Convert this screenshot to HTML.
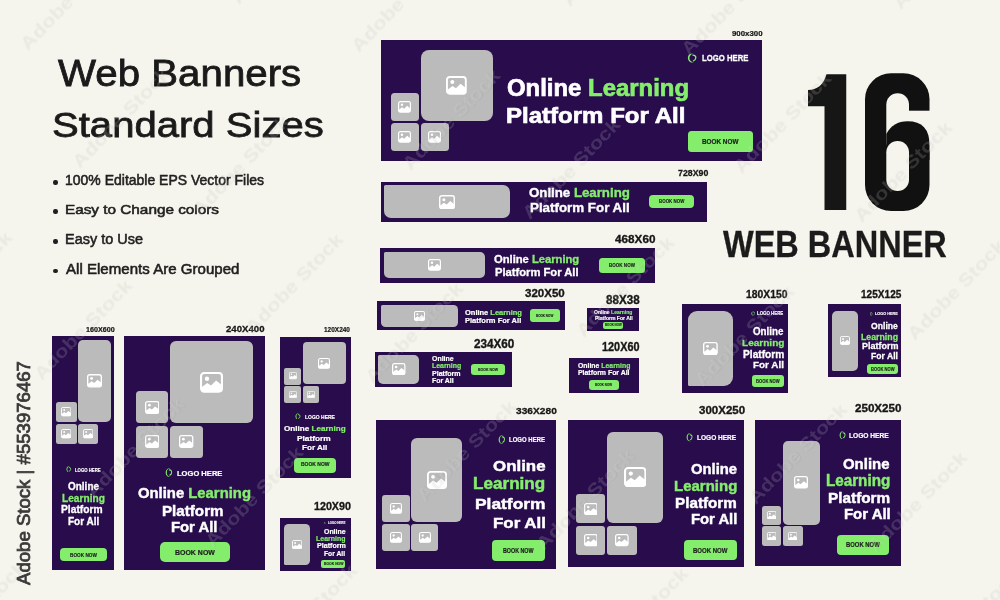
<!DOCTYPE html>
<html><head><meta charset="utf-8"><style>
html,body{margin:0;padding:0;width:1000px;height:600px;overflow:hidden;background:#f6f5ed;}
body{position:relative;font-family:"Liberation Sans",sans-serif;}
.t{position:absolute;white-space:nowrap;transform-origin:0 0;}
.r{position:absolute;display:block;}
</style></head><body>
<div class="t" style="left:58.44px;top:55.36px;font-size:100px;line-height:100px;font-weight:400;color:#1a1a1a;transform:scale(0.40267,0.36188);-webkit-text-stroke-width:2.21px;">Web Banners</div>
<div class="t" style="left:51.66px;top:107.01px;font-size:100px;line-height:100px;font-weight:400;color:#1a1a1a;transform:scale(0.40075,0.35773);-webkit-text-stroke-width:2.24px;">Standard Sizes</div>
<div class="t" style="left:64.94px;top:173.15px;font-size:100px;line-height:100px;font-weight:400;color:#1f1f1f;transform:scale(0.13989,0.14227);-webkit-text-stroke-width:3.87px;">100% Editable EPS Vector Files</div>
<div class="r" style="left:53.00px;top:180.40px;width:4.50px;height:4.50px;background:#1f1f1f;border-radius:2.2px;"></div>
<div class="t" style="left:64.74px;top:202.57px;font-size:100px;line-height:100px;font-weight:400;color:#1f1f1f;transform:scale(0.15306,0.13260);-webkit-text-stroke-width:4.15px;">Easy to Change colors</div>
<div class="r" style="left:53.00px;top:209.00px;width:4.50px;height:4.50px;background:#1f1f1f;border-radius:2.2px;"></div>
<div class="t" style="left:64.81px;top:231.62px;font-size:100px;line-height:100px;font-weight:400;color:#1f1f1f;transform:scale(0.14489,0.14390);-webkit-text-stroke-width:3.82px;">Easy to Use</div>
<div class="r" style="left:53.00px;top:239.00px;width:4.50px;height:4.50px;background:#1f1f1f;border-radius:2.2px;"></div>
<div class="t" style="left:65.97px;top:261.57px;font-size:100px;line-height:100px;font-weight:400;color:#1f1f1f;transform:scale(0.15079,0.14088);-webkit-text-stroke-width:3.90px;">All Elements Are Grouped</div>
<div class="r" style="left:53.00px;top:268.70px;width:4.50px;height:4.50px;background:#1f1f1f;border-radius:2.2px;"></div>
<svg class="r" style="left:0;top:0;width:1000px;height:600px" viewBox="0 0 1000 600"><defs><mask id="m6"><rect x="850" y="60" width="100" height="160" fill="#fff"/><rect x="886.3" y="93.3" width="22.7" height="60" rx="11.35" fill="#000"/><rect x="909" y="110.7" width="30" height="40" fill="#000"/></mask></defs><path d="M808 90 C817 90 823.5 85 826.5 74.25 H846.25 V210 H824.5 V106.25 H808 Z" fill="#161616"/><g mask="url(#m6)"><rect x="865" y="73.3" width="64.5" height="137.7" rx="26" fill="#111"/></g><path d="M886.3 134 Q893 121.3 907.5 121.3 Q929.5 121.3 929.5 145 V160 H886.3 Z" fill="#111"/><rect x="886.3" y="141" width="22.7" height="50" rx="11.35" fill="#f6f5ed"/></svg>
<div class="t" style="left:723.34px;top:225.09px;font-size:100px;line-height:100px;font-weight:700;color:#1b1b1b;transform:scale(0.32493,0.37209);-webkit-text-stroke-width:0.81px;">WEB BANNER</div>
<div class="r" style="left:381.00px;top:39.50px;width:381.00px;height:121.50px;background:#280c4c;border-radius:0.0px;"></div>
<div class="r" style="left:420.75px;top:49.50px;width:71.75px;height:71.50px;background:#bbbbbb;border-radius:8px"></div>
<svg class="r" style="left:446.25px;top:75.91px;width:20.75px;height:18.68px" viewBox="0 0 24 21.6"><rect x="1.1" y="1.1" width="21.8" height="19.4" rx="3.2" fill="none" stroke="#fff" stroke-width="2.2"/><circle cx="7.3" cy="7" r="2.3" fill="#fff"/><path d="M1 16.5 L7.5 11.5 L11.5 14.2 L16.8 9 L23 13.8 V18 Q23 20.5 20.5 20.5 H3.5 Q1 20.5 1 18 Z" fill="#fff"/></svg>
<div class="r" style="left:390.75px;top:93.00px;width:28.00px;height:28.00px;background:#bbbbbb;border-radius:3.5px"></div>
<svg class="r" style="left:398.25px;top:101.15px;width:13.00px;height:11.70px" viewBox="0 0 24 21.6"><rect x="1.1" y="1.1" width="21.8" height="19.4" rx="3.2" fill="none" stroke="#fff" stroke-width="2.2"/><circle cx="7.3" cy="7" r="2.3" fill="#fff"/><path d="M1 16.5 L7.5 11.5 L11.5 14.2 L16.8 9 L23 13.8 V18 Q23 20.5 20.5 20.5 H3.5 Q1 20.5 1 18 Z" fill="#fff"/></svg>
<div class="r" style="left:390.75px;top:123.00px;width:28.00px;height:28.00px;background:#bbbbbb;border-radius:3.5px"></div>
<svg class="r" style="left:398.25px;top:131.15px;width:13.00px;height:11.70px" viewBox="0 0 24 21.6"><rect x="1.1" y="1.1" width="21.8" height="19.4" rx="3.2" fill="none" stroke="#fff" stroke-width="2.2"/><circle cx="7.3" cy="7" r="2.3" fill="#fff"/><path d="M1 16.5 L7.5 11.5 L11.5 14.2 L16.8 9 L23 13.8 V18 Q23 20.5 20.5 20.5 H3.5 Q1 20.5 1 18 Z" fill="#fff"/></svg>
<div class="r" style="left:420.75px;top:123.00px;width:28.00px;height:28.00px;background:#bbbbbb;border-radius:3.5px"></div>
<svg class="r" style="left:428.25px;top:131.15px;width:13.00px;height:11.70px" viewBox="0 0 24 21.6"><rect x="1.1" y="1.1" width="21.8" height="19.4" rx="3.2" fill="none" stroke="#fff" stroke-width="2.2"/><circle cx="7.3" cy="7" r="2.3" fill="#fff"/><path d="M1 16.5 L7.5 11.5 L11.5 14.2 L16.8 9 L23 13.8 V18 Q23 20.5 20.5 20.5 H3.5 Q1 20.5 1 18 Z" fill="#fff"/></svg>
<svg class="r" style="left:687.00px;top:53.00px;width:10.20px;height:10.00px" viewBox="0 0 20 20" preserveAspectRatio="none"><path d="M13.5 1.2 A9.2 9.2 0 1 0 13.5 18.8 A8 8 0 0 1 13.5 1.2 Z" fill="#84ee6c"/><path d="M11.5 4.2 Q17.8 4.6 17.2 10 Q16.6 14.6 12.6 15.6" fill="none" stroke="#84ee6c" stroke-width="2.6" stroke-linecap="round"/></svg>
<div class="t" style="left:701.89px;top:54.12px;font-size:100px;line-height:100px;font-weight:700;color:#ffffff;transform:scale(0.07734,0.08596);-webkit-text-stroke-width:3.00px;">LOGO HERE</div>
<div class="t" style="left:506.54px;top:74.53px;font-size:100px;line-height:100px;font-weight:700;color:#ffffff;transform:scale(0.23914,0.24171);-webkit-text-stroke-width:3.00px;">Online <span style="color:#84ee6c">Learning</span></div>
<div class="t" style="left:505.91px;top:103.79px;font-size:100px;line-height:100px;font-weight:700;color:#fff;transform:scale(0.24031,0.22099);-webkit-text-stroke-width:3.00px;">Platform For All</div>
<div class="r" style="left:687.50px;top:131.00px;width:65.00px;height:20.75px;background:#84ee6c;border-radius:3.5px;"></div>
<div class="t" style="left:701.58px;top:137.83px;font-size:100px;line-height:100px;font-weight:700;color:#1d1d1d;transform:scale(0.06367,0.07163);-webkit-text-stroke-width:3.00px;">BOOK NOW</div>
<div class="t" style="left:731.73px;top:29.33px;font-size:100px;line-height:100px;font-weight:700;color:#161616;transform:scale(0.07858,0.07880);-webkit-text-stroke-width:3.00px;">900x300</div>
<div class="r" style="left:380.50px;top:181.70px;width:326.30px;height:39.90px;background:#280c4c;border-radius:0.0px;"></div>
<div class="r" style="left:383.90px;top:184.90px;width:126.10px;height:33.60px;background:#bbbbbb;border-radius:1.5px 7px 7px 7px"></div>
<svg class="r" style="left:438.95px;top:194.50px;width:16.00px;height:14.40px" viewBox="0 0 24 21.6"><rect x="1.1" y="1.1" width="21.8" height="19.4" rx="3.2" fill="none" stroke="#fff" stroke-width="2.2"/><circle cx="7.3" cy="7" r="2.3" fill="#fff"/><path d="M1 16.5 L7.5 11.5 L11.5 14.2 L16.8 9 L23 13.8 V18 Q23 20.5 20.5 20.5 H3.5 Q1 20.5 1 18 Z" fill="#fff"/></svg>
<div class="t" style="left:529.27px;top:186.17px;font-size:100px;line-height:100px;font-weight:700;color:#ffffff;transform:scale(0.13243,0.13260);-webkit-text-stroke-width:3.00px;">Online <span style="color:#84ee6c">Learning</span></div>
<div class="t" style="left:529.92px;top:201.47px;font-size:100px;line-height:100px;font-weight:700;color:#fff;transform:scale(0.13346,0.12431);-webkit-text-stroke-width:3.00px;">Platform For All</div>
<div class="r" style="left:649.00px;top:194.80px;width:44.90px;height:13.60px;background:#84ee6c;border-radius:4.0px;"></div>
<div class="t" style="left:658.71px;top:199.22px;font-size:100px;line-height:100px;font-weight:700;color:#1d1d1d;transform:scale(0.04439,0.04585);-webkit-text-stroke-width:3.00px;">BOOK NOW</div>
<div class="t" style="left:677.63px;top:169.22px;font-size:100px;line-height:100px;font-weight:700;color:#161616;transform:scale(0.08824,0.08596);-webkit-text-stroke-width:3.00px;">728X90</div>
<div class="r" style="left:379.80px;top:247.50px;width:275.50px;height:35.00px;background:#280c4c;border-radius:0.0px;"></div>
<div class="r" style="left:384.00px;top:251.70px;width:100.50px;height:26.60px;background:#bbbbbb;border-radius:1.5px 5px 5px 5px"></div>
<svg class="r" style="left:427.75px;top:259.15px;width:13.00px;height:11.70px" viewBox="0 0 24 21.6"><rect x="1.1" y="1.1" width="21.8" height="19.4" rx="3.2" fill="none" stroke="#fff" stroke-width="2.2"/><circle cx="7.3" cy="7" r="2.3" fill="#fff"/><path d="M1 16.5 L7.5 11.5 L11.5 14.2 L16.8 9 L23 13.8 V18 Q23 20.5 20.5 20.5 H3.5 Q1 20.5 1 18 Z" fill="#fff"/></svg>
<div class="t" style="left:494.05px;top:253.73px;font-size:100px;line-height:100px;font-weight:700;color:#ffffff;transform:scale(0.11191,0.10359);-webkit-text-stroke-width:3.00px;">Online <span style="color:#84ee6c">Learning</span></div>
<div class="t" style="left:494.76px;top:266.73px;font-size:100px;line-height:100px;font-weight:700;color:#fff;transform:scale(0.11190,0.10359);-webkit-text-stroke-width:3.00px;">Platform For All</div>
<div class="r" style="left:599.00px;top:258.00px;width:45.80px;height:14.70px;background:#84ee6c;border-radius:3.5px;"></div>
<div class="t" style="left:608.78px;top:263.04px;font-size:100px;line-height:100px;font-weight:700;color:#1d1d1d;transform:scale(0.04536,0.04633);-webkit-text-stroke-width:3.00px;">BOOK NOW</div>
<div class="t" style="left:614.74px;top:233.50px;font-size:100px;line-height:100px;font-weight:700;color:#161616;transform:scale(0.11756,0.10745);-webkit-text-stroke-width:3.00px;">468X60</div>
<div class="r" style="left:376.60px;top:301.00px;width:188.40px;height:29.40px;background:#280c4c;border-radius:0.0px;"></div>
<div class="r" style="left:381.00px;top:304.60px;width:77.00px;height:22.40px;background:#bbbbbb;border-radius:1.5px 4.5px 4.5px 4.5px"></div>
<svg class="r" style="left:414.00px;top:310.85px;width:11.00px;height:9.90px" viewBox="0 0 24 21.6"><rect x="1.1" y="1.1" width="21.8" height="19.4" rx="3.2" fill="none" stroke="#fff" stroke-width="2.2"/><circle cx="7.3" cy="7" r="2.3" fill="#fff"/><path d="M1 16.5 L7.5 11.5 L11.5 14.2 L16.8 9 L23 13.8 V18 Q23 20.5 20.5 20.5 H3.5 Q1 20.5 1 18 Z" fill="#fff"/></svg>
<div class="t" style="left:465.00px;top:307.85px;font-size:100px;line-height:100px;font-weight:700;color:#ffffff;transform:scale(0.07474,0.07735);-webkit-text-stroke-width:3.00px;">Online <span style="color:#84ee6c">Learning</span></div>
<div class="t" style="left:465.40px;top:316.68px;font-size:100px;line-height:100px;font-weight:700;color:#fff;transform:scale(0.07533,0.07459);-webkit-text-stroke-width:3.00px;">Platform For All</div>
<div class="r" style="left:529.60px;top:309.40px;width:30.40px;height:12.60px;background:#84ee6c;border-radius:3.0px;"></div>
<div class="t" style="left:536.09px;top:313.72px;font-size:100px;line-height:100px;font-weight:700;color:#1d1d1d;transform:scale(0.03011,0.03971);-webkit-text-stroke-width:3.00px;">BOOK NOW</div>
<div class="t" style="left:525.15px;top:287.94px;font-size:100px;line-height:100px;font-weight:700;color:#161616;transform:scale(0.11518,0.11175);-webkit-text-stroke-width:3.00px;">320X50</div>
<div class="r" style="left:587.30px;top:308.30px;width:52.00px;height:22.50px;background:#280c4c;border-radius:0.0px;"></div>
<div class="t" style="left:594.10px;top:310.16px;font-size:100px;line-height:100px;font-weight:700;color:#ffffff;transform:scale(0.05036,0.05249);-webkit-text-stroke-width:3.00px;">Online <span style="color:#84ee6c">Learning</span></div>
<div class="t" style="left:594.57px;top:315.91px;font-size:100px;line-height:100px;font-weight:700;color:#fff;transform:scale(0.05035,0.04834);-webkit-text-stroke-width:3.00px;">Platform For All</div>
<div class="r" style="left:602.70px;top:322.00px;width:20.70px;height:7.30px;background:#84ee6c;border-radius:2.0px;"></div>
<div class="t" style="left:604.61px;top:324.30px;font-size:100px;line-height:100px;font-weight:700;color:#1d1d1d;transform:scale(0.02918,0.02722);-webkit-text-stroke-width:3.00px;">BOOK NOW</div>
<div class="t" style="left:606.03px;top:293.81px;font-size:100px;line-height:100px;font-weight:700;color:#161616;transform:scale(0.11661,0.12034);-webkit-text-stroke-width:3.00px;">88X38</div>
<div class="r" style="left:375.00px;top:352.00px;width:137.30px;height:34.90px;background:#280c4c;border-radius:0.0px;"></div>
<div class="r" style="left:378.40px;top:355.00px;width:41.10px;height:28.50px;background:#bbbbbb;border-radius:1.5px 5px 5px 5px"></div>
<svg class="r" style="left:392.20px;top:363.18px;width:13.50px;height:12.15px" viewBox="0 0 24 21.6"><rect x="1.1" y="1.1" width="21.8" height="19.4" rx="3.2" fill="none" stroke="#fff" stroke-width="2.2"/><circle cx="7.3" cy="7" r="2.3" fill="#fff"/><path d="M1 16.5 L7.5 11.5 L11.5 14.2 L16.8 9 L23 13.8 V18 Q23 20.5 20.5 20.5 H3.5 Q1 20.5 1 18 Z" fill="#fff"/></svg>
<div class="t" style="left:432.42px;top:354.55px;font-size:100px;line-height:100px;font-weight:700;color:#fff;transform:scale(0.06945,0.06906);-webkit-text-stroke-width:3.00px;">Online</div>
<div class="t" style="left:432.24px;top:361.92px;font-size:100px;line-height:100px;font-weight:700;color:#84ee6c;transform:scale(0.06919,0.07182);-webkit-text-stroke-width:3.00px;">Learning</div>
<div class="t" style="left:432.24px;top:369.85px;font-size:100px;line-height:100px;font-weight:700;color:#fff;transform:scale(0.07023,0.06906);-webkit-text-stroke-width:3.00px;">Platform</div>
<div class="t" style="left:432.24px;top:377.37px;font-size:100px;line-height:100px;font-weight:700;color:#fff;transform:scale(0.06914,0.06768);-webkit-text-stroke-width:3.00px;">For All</div>
<div class="r" style="left:470.90px;top:363.70px;width:34.00px;height:11.30px;background:#84ee6c;border-radius:3.0px;"></div>
<div class="t" style="left:477.87px;top:367.38px;font-size:100px;line-height:100px;font-weight:700;color:#1d1d1d;transform:scale(0.03502,0.04155);-webkit-text-stroke-width:3.00px;">BOOK NOW</div>
<div class="t" style="left:473.60px;top:338.21px;font-size:100px;line-height:100px;font-weight:700;color:#161616;transform:scale(0.11678,0.12034);-webkit-text-stroke-width:3.00px;">234X60</div>
<div class="r" style="left:569.00px;top:358.00px;width:70.20px;height:34.60px;background:#280c4c;border-radius:0.0px;"></div>
<div class="t" style="left:577.93px;top:361.42px;font-size:100px;line-height:100px;font-weight:700;color:#ffffff;transform:scale(0.06875,0.08011);-webkit-text-stroke-width:3.00px;">Online <span style="color:#84ee6c">Learning</span></div>
<div class="t" style="left:578.34px;top:369.08px;font-size:100px;line-height:100px;font-weight:700;color:#fff;transform:scale(0.06905,0.07459);-webkit-text-stroke-width:3.00px;">Platform For All</div>
<div class="r" style="left:589.00px;top:380.00px;width:29.80px;height:10.20px;background:#84ee6c;border-radius:3.0px;"></div>
<div class="t" style="left:595.20px;top:383.09px;font-size:100px;line-height:100px;font-weight:700;color:#1d1d1d;transform:scale(0.02971,0.03438);-webkit-text-stroke-width:3.00px;">BOOK NOW</div>
<div class="t" style="left:602.33px;top:341.21px;font-size:100px;line-height:100px;font-weight:700;color:#161616;transform:scale(0.10879,0.12034);-webkit-text-stroke-width:3.00px;">120X60</div>
<div class="r" style="left:682.00px;top:304.25px;width:105.80px;height:88.25px;background:#280c4c;border-radius:0.0px;"></div>
<div class="r" style="left:688.00px;top:310.50px;width:44.50px;height:75.75px;background:#bbbbbb;border-radius:9px 9px 9px 1.5px"></div>
<svg class="r" style="left:702.88px;top:341.74px;width:14.75px;height:13.28px" viewBox="0 0 24 21.6"><rect x="1.1" y="1.1" width="21.8" height="19.4" rx="3.2" fill="none" stroke="#fff" stroke-width="2.2"/><circle cx="7.3" cy="7" r="2.3" fill="#fff"/><path d="M1 16.5 L7.5 11.5 L11.5 14.2 L16.8 9 L23 13.8 V18 Q23 20.5 20.5 20.5 H3.5 Q1 20.5 1 18 Z" fill="#fff"/></svg>
<svg class="r" style="left:750.70px;top:311.00px;width:4.50px;height:4.80px" viewBox="0 0 20 20" preserveAspectRatio="none"><path d="M13.5 1.2 A9.2 9.2 0 1 0 13.5 18.8 A8 8 0 0 1 13.5 1.2 Z" fill="#84ee6c"/><path d="M11.5 4.2 Q17.8 4.6 17.2 10 Q16.6 14.6 12.6 15.6" fill="none" stroke="#84ee6c" stroke-width="2.6" stroke-linecap="round"/></svg>
<div class="t" style="left:757.21px;top:311.32px;font-size:100px;line-height:100px;font-weight:700;color:#ffffff;transform:scale(0.04376,0.04585);-webkit-text-stroke-width:3.00px;">LOGO HERE</div>
<div class="t" style="left:753.31px;top:326.35px;font-size:100px;line-height:100px;font-weight:700;color:#fff;transform:scale(0.09743,0.10221);-webkit-text-stroke-width:3.00px;">Online</div>
<div class="t" style="left:741.54px;top:337.78px;font-size:100px;line-height:100px;font-weight:700;color:#84ee6c;transform:scale(0.10049,0.09945);-webkit-text-stroke-width:3.00px;">Learning</div>
<div class="t" style="left:742.53px;top:348.96px;font-size:100px;line-height:100px;font-weight:700;color:#fff;transform:scale(0.10204,0.10083);-webkit-text-stroke-width:3.00px;">Platform</div>
<div class="t" style="left:753.05px;top:360.28px;font-size:100px;line-height:100px;font-weight:700;color:#fff;transform:scale(0.09886,0.09945);-webkit-text-stroke-width:3.00px;">For All</div>
<div class="r" style="left:752.20px;top:375.20px;width:31.50px;height:12.30px;background:#84ee6c;border-radius:3.0px;"></div>
<div class="t" style="left:756.03px;top:379.30px;font-size:100px;line-height:100px;font-weight:700;color:#1d1d1d;transform:scale(0.04139,0.04728);-webkit-text-stroke-width:3.00px;">BOOK NOW</div>
<div class="t" style="left:746.36px;top:287.80px;font-size:100px;line-height:100px;font-weight:700;color:#161616;transform:scale(0.10379,0.11461);-webkit-text-stroke-width:3.00px;">180X150</div>
<div class="r" style="left:828.00px;top:304.25px;width:73.25px;height:73.00px;background:#280c4c;border-radius:0.0px;"></div>
<div class="r" style="left:832.00px;top:311.25px;width:26.00px;height:59.25px;background:#bbbbbb;border-radius:5px 5px 5px 1.5px"></div>
<svg class="r" style="left:840.00px;top:336.38px;width:10.00px;height:9.00px" viewBox="0 0 24 21.6"><rect x="1.1" y="1.1" width="21.8" height="19.4" rx="3.2" fill="none" stroke="#fff" stroke-width="2.2"/><circle cx="7.3" cy="7" r="2.3" fill="#fff"/><path d="M1 16.5 L7.5 11.5 L11.5 14.2 L16.8 9 L23 13.8 V18 Q23 20.5 20.5 20.5 H3.5 Q1 20.5 1 18 Z" fill="#fff"/></svg>
<svg class="r" style="left:869.75px;top:312.25px;width:2.75px;height:3.75px" viewBox="0 0 20 20" preserveAspectRatio="none"><path d="M13.5 1.2 A9.2 9.2 0 1 0 13.5 18.8 A8 8 0 0 1 13.5 1.2 Z" fill="#84ee6c"/><path d="M11.5 4.2 Q17.8 4.6 17.2 10 Q16.6 14.6 12.6 15.6" fill="none" stroke="#84ee6c" stroke-width="2.6" stroke-linecap="round"/></svg>
<div class="t" style="left:874.75px;top:312.14px;font-size:100px;line-height:100px;font-weight:700;color:#ffffff;transform:scale(0.03816,0.04083);-webkit-text-stroke-width:3.00px;">LOGO HERE</div>
<div class="t" style="left:871.15px;top:321.63px;font-size:100px;line-height:100px;font-weight:700;color:#fff;transform:scale(0.08641,0.08702);-webkit-text-stroke-width:3.00px;">Online</div>
<div class="t" style="left:861.32px;top:331.52px;font-size:100px;line-height:100px;font-weight:700;color:#84ee6c;transform:scale(0.08765,0.08840);-webkit-text-stroke-width:3.00px;">Learning</div>
<div class="t" style="left:861.91px;top:341.63px;font-size:100px;line-height:100px;font-weight:700;color:#fff;transform:scale(0.08969,0.08702);-webkit-text-stroke-width:3.00px;">Platform</div>
<div class="t" style="left:871.33px;top:351.63px;font-size:100px;line-height:100px;font-weight:700;color:#fff;transform:scale(0.08634,0.08702);-webkit-text-stroke-width:3.00px;">For All</div>
<div class="r" style="left:866.90px;top:363.50px;width:31.20px;height:10.50px;background:#84ee6c;border-radius:3.0px;"></div>
<div class="t" style="left:870.73px;top:366.78px;font-size:100px;line-height:100px;font-weight:700;color:#1d1d1d;transform:scale(0.04139,0.04871);-webkit-text-stroke-width:3.00px;">BOOK NOW</div>
<div class="t" style="left:861.12px;top:287.80px;font-size:100px;line-height:100px;font-weight:700;color:#161616;transform:scale(0.10092,0.11461);-webkit-text-stroke-width:3.00px;">125X125</div>
<div class="r" style="left:52.20px;top:336.00px;width:62.20px;height:234.40px;background:#280c4c;border-radius:0.0px;"></div>
<div class="r" style="left:77.90px;top:340.00px;width:33.30px;height:82.00px;background:#bbbbbb;border-radius:5px"></div>
<svg class="r" style="left:87.05px;top:374.25px;width:15.00px;height:13.50px" viewBox="0 0 24 21.6"><rect x="1.1" y="1.1" width="21.8" height="19.4" rx="3.2" fill="none" stroke="#fff" stroke-width="2.2"/><circle cx="7.3" cy="7" r="2.3" fill="#fff"/><path d="M1 16.5 L7.5 11.5 L11.5 14.2 L16.8 9 L23 13.8 V18 Q23 20.5 20.5 20.5 H3.5 Q1 20.5 1 18 Z" fill="#fff"/></svg>
<div class="r" style="left:56.00px;top:402.00px;width:20.50px;height:20.00px;background:#bbbbbb;border-radius:2.5px"></div>
<svg class="r" style="left:61.05px;top:407.32px;width:10.40px;height:9.36px" viewBox="0 0 24 21.6"><rect x="1.1" y="1.1" width="21.8" height="19.4" rx="3.2" fill="none" stroke="#fff" stroke-width="2.2"/><circle cx="7.3" cy="7" r="2.3" fill="#fff"/><path d="M1 16.5 L7.5 11.5 L11.5 14.2 L16.8 9 L23 13.8 V18 Q23 20.5 20.5 20.5 H3.5 Q1 20.5 1 18 Z" fill="#fff"/></svg>
<div class="r" style="left:56.00px;top:424.00px;width:20.50px;height:20.00px;background:#bbbbbb;border-radius:2.5px"></div>
<svg class="r" style="left:61.05px;top:429.32px;width:10.40px;height:9.36px" viewBox="0 0 24 21.6"><rect x="1.1" y="1.1" width="21.8" height="19.4" rx="3.2" fill="none" stroke="#fff" stroke-width="2.2"/><circle cx="7.3" cy="7" r="2.3" fill="#fff"/><path d="M1 16.5 L7.5 11.5 L11.5 14.2 L16.8 9 L23 13.8 V18 Q23 20.5 20.5 20.5 H3.5 Q1 20.5 1 18 Z" fill="#fff"/></svg>
<div class="r" style="left:77.90px;top:424.00px;width:20.10px;height:20.00px;background:#bbbbbb;border-radius:2.5px"></div>
<svg class="r" style="left:82.75px;top:429.32px;width:10.40px;height:9.36px" viewBox="0 0 24 21.6"><rect x="1.1" y="1.1" width="21.8" height="19.4" rx="3.2" fill="none" stroke="#fff" stroke-width="2.2"/><circle cx="7.3" cy="7" r="2.3" fill="#fff"/><path d="M1 16.5 L7.5 11.5 L11.5 14.2 L16.8 9 L23 13.8 V18 Q23 20.5 20.5 20.5 H3.5 Q1 20.5 1 18 Z" fill="#fff"/></svg>
<svg class="r" style="left:66.10px;top:465.90px;width:5.50px;height:6.60px" viewBox="0 0 20 20" preserveAspectRatio="none"><path d="M13.5 1.2 A9.2 9.2 0 1 0 13.5 18.8 A8 8 0 0 1 13.5 1.2 Z" fill="#84ee6c"/><path d="M11.5 4.2 Q17.8 4.6 17.2 10 Q16.6 14.6 12.6 15.6" fill="none" stroke="#84ee6c" stroke-width="2.6" stroke-linecap="round"/></svg>
<div class="t" style="left:74.52px;top:466.91px;font-size:100px;line-height:100px;font-weight:700;color:#ffffff;transform:scale(0.04257,0.05301);-webkit-text-stroke-width:3.00px;">LOGO HERE</div>
<div class="t" style="left:67.90px;top:481.41px;font-size:100px;line-height:100px;font-weight:700;color:#fff;transform:scale(0.09974,0.10497);-webkit-text-stroke-width:3.00px;">Online</div>
<div class="t" style="left:61.83px;top:493.03px;font-size:100px;line-height:100px;font-weight:700;color:#84ee6c;transform:scale(0.10171,0.10359);-webkit-text-stroke-width:3.00px;">Learning</div>
<div class="t" style="left:61.22px;top:504.43px;font-size:100px;line-height:100px;font-weight:700;color:#fff;transform:scale(0.10280,0.10359);-webkit-text-stroke-width:3.00px;">Platform</div>
<div class="t" style="left:68.04px;top:515.71px;font-size:100px;line-height:100px;font-weight:700;color:#fff;transform:scale(0.09987,0.10497);-webkit-text-stroke-width:3.00px;">For All</div>
<div class="r" style="left:60.10px;top:547.70px;width:46.80px;height:13.60px;background:#84ee6c;border-radius:4.0px;"></div>
<div class="t" style="left:69.89px;top:552.41px;font-size:100px;line-height:100px;font-weight:700;color:#1d1d1d;transform:scale(0.04705,0.05301);-webkit-text-stroke-width:3.00px;">BOOK NOW</div>
<div class="t" style="left:86.26px;top:325.93px;font-size:100px;line-height:100px;font-weight:700;color:#161616;transform:scale(0.07176,0.07163);-webkit-text-stroke-width:3.00px;">160X600</div>
<div class="r" style="left:124.00px;top:336.00px;width:140.60px;height:234.40px;background:#280c4c;border-radius:0.0px;"></div>
<div class="r" style="left:170.00px;top:341.30px;width:82.80px;height:82.00px;background:#bbbbbb;border-radius:6px"></div>
<svg class="r" style="left:199.90px;top:371.95px;width:23.00px;height:20.70px" viewBox="0 0 24 21.6"><rect x="1.1" y="1.1" width="21.8" height="19.4" rx="3.2" fill="none" stroke="#fff" stroke-width="2.2"/><circle cx="7.3" cy="7" r="2.3" fill="#fff"/><path d="M1 16.5 L7.5 11.5 L11.5 14.2 L16.8 9 L23 13.8 V18 Q23 20.5 20.5 20.5 H3.5 Q1 20.5 1 18 Z" fill="#fff"/></svg>
<div class="r" style="left:136.00px;top:391.20px;width:32.00px;height:32.10px;background:#bbbbbb;border-radius:3.5px"></div>
<svg class="r" style="left:144.80px;top:400.77px;width:14.40px;height:12.96px" viewBox="0 0 24 21.6"><rect x="1.1" y="1.1" width="21.8" height="19.4" rx="3.2" fill="none" stroke="#fff" stroke-width="2.2"/><circle cx="7.3" cy="7" r="2.3" fill="#fff"/><path d="M1 16.5 L7.5 11.5 L11.5 14.2 L16.8 9 L23 13.8 V18 Q23 20.5 20.5 20.5 H3.5 Q1 20.5 1 18 Z" fill="#fff"/></svg>
<div class="r" style="left:136.00px;top:425.90px;width:32.00px;height:32.10px;background:#bbbbbb;border-radius:3.5px"></div>
<svg class="r" style="left:144.80px;top:435.47px;width:14.40px;height:12.96px" viewBox="0 0 24 21.6"><rect x="1.1" y="1.1" width="21.8" height="19.4" rx="3.2" fill="none" stroke="#fff" stroke-width="2.2"/><circle cx="7.3" cy="7" r="2.3" fill="#fff"/><path d="M1 16.5 L7.5 11.5 L11.5 14.2 L16.8 9 L23 13.8 V18 Q23 20.5 20.5 20.5 H3.5 Q1 20.5 1 18 Z" fill="#fff"/></svg>
<div class="r" style="left:170.00px;top:425.90px;width:32.70px;height:32.10px;background:#bbbbbb;border-radius:3.5px"></div>
<svg class="r" style="left:179.15px;top:435.47px;width:14.40px;height:12.96px" viewBox="0 0 24 21.6"><rect x="1.1" y="1.1" width="21.8" height="19.4" rx="3.2" fill="none" stroke="#fff" stroke-width="2.2"/><circle cx="7.3" cy="7" r="2.3" fill="#fff"/><path d="M1 16.5 L7.5 11.5 L11.5 14.2 L16.8 9 L23 13.8 V18 Q23 20.5 20.5 20.5 H3.5 Q1 20.5 1 18 Z" fill="#fff"/></svg>
<svg class="r" style="left:164.90px;top:467.70px;width:7.70px;height:9.20px" viewBox="0 0 20 20" preserveAspectRatio="none"><path d="M13.5 1.2 A9.2 9.2 0 1 0 13.5 18.8 A8 8 0 0 1 13.5 1.2 Z" fill="#84ee6c"/><path d="M11.5 4.2 Q17.8 4.6 17.2 10 Q16.6 14.6 12.6 15.6" fill="none" stroke="#84ee6c" stroke-width="2.6" stroke-linecap="round"/></svg>
<div class="t" style="left:177.20px;top:468.93px;font-size:100px;line-height:100px;font-weight:700;color:#ffffff;transform:scale(0.07564,0.07880);-webkit-text-stroke-width:3.00px;">LOGO HERE</div>
<div class="t" style="left:138.21px;top:485.40px;font-size:100px;line-height:100px;font-weight:700;color:#ffffff;transform:scale(0.14841,0.15470);-webkit-text-stroke-width:3.00px;">Online <span style="color:#84ee6c">Learning</span></div>
<div class="t" style="left:161.70px;top:502.90px;font-size:100px;line-height:100px;font-weight:700;color:#fff;transform:scale(0.15165,0.15470);-webkit-text-stroke-width:3.00px;">Platform</div>
<div class="t" style="left:170.82px;top:519.40px;font-size:100px;line-height:100px;font-weight:700;color:#fff;transform:scale(0.14830,0.15470);-webkit-text-stroke-width:3.00px;">For All</div>
<div class="r" style="left:159.70px;top:542.20px;width:70.30px;height:20.20px;background:#84ee6c;border-radius:5.0px;"></div>
<div class="t" style="left:174.54px;top:548.21px;font-size:100px;line-height:100px;font-weight:700;color:#1d1d1d;transform:scale(0.06969,0.08023);-webkit-text-stroke-width:3.00px;">BOOK NOW</div>
<div class="t" style="left:226.37px;top:324.43px;font-size:100px;line-height:100px;font-weight:700;color:#161616;transform:scale(0.09618,0.09885);-webkit-text-stroke-width:3.00px;">240X400</div>
<div class="r" style="left:280.25px;top:336.50px;width:70.25px;height:141.00px;background:#280c4c;border-radius:0.0px;"></div>
<div class="r" style="left:302.50px;top:341.90px;width:43.00px;height:42.60px;background:#bbbbbb;border-radius:4px"></div>
<svg class="r" style="left:318.00px;top:357.80px;width:12.00px;height:10.80px" viewBox="0 0 24 21.6"><rect x="1.1" y="1.1" width="21.8" height="19.4" rx="3.2" fill="none" stroke="#fff" stroke-width="2.2"/><circle cx="7.3" cy="7" r="2.3" fill="#fff"/><path d="M1 16.5 L7.5 11.5 L11.5 14.2 L16.8 9 L23 13.8 V18 Q23 20.5 20.5 20.5 H3.5 Q1 20.5 1 18 Z" fill="#fff"/></svg>
<div class="r" style="left:284.00px;top:367.50px;width:17.20px;height:17.00px;background:#bbbbbb;border-radius:2px"></div>
<svg class="r" style="left:288.60px;top:372.40px;width:8.00px;height:7.20px" viewBox="0 0 24 21.6"><rect x="1.1" y="1.1" width="21.8" height="19.4" rx="3.2" fill="none" stroke="#fff" stroke-width="2.2"/><circle cx="7.3" cy="7" r="2.3" fill="#fff"/><path d="M1 16.5 L7.5 11.5 L11.5 14.2 L16.8 9 L23 13.8 V18 Q23 20.5 20.5 20.5 H3.5 Q1 20.5 1 18 Z" fill="#fff"/></svg>
<div class="r" style="left:284.00px;top:385.90px;width:17.20px;height:16.80px;background:#bbbbbb;border-radius:2px"></div>
<svg class="r" style="left:288.60px;top:390.70px;width:8.00px;height:7.20px" viewBox="0 0 24 21.6"><rect x="1.1" y="1.1" width="21.8" height="19.4" rx="3.2" fill="none" stroke="#fff" stroke-width="2.2"/><circle cx="7.3" cy="7" r="2.3" fill="#fff"/><path d="M1 16.5 L7.5 11.5 L11.5 14.2 L16.8 9 L23 13.8 V18 Q23 20.5 20.5 20.5 H3.5 Q1 20.5 1 18 Z" fill="#fff"/></svg>
<div class="r" style="left:302.50px;top:385.90px;width:16.80px;height:16.80px;background:#bbbbbb;border-radius:2px"></div>
<svg class="r" style="left:306.90px;top:390.70px;width:8.00px;height:7.20px" viewBox="0 0 24 21.6"><rect x="1.1" y="1.1" width="21.8" height="19.4" rx="3.2" fill="none" stroke="#fff" stroke-width="2.2"/><circle cx="7.3" cy="7" r="2.3" fill="#fff"/><path d="M1 16.5 L7.5 11.5 L11.5 14.2 L16.8 9 L23 13.8 V18 Q23 20.5 20.5 20.5 H3.5 Q1 20.5 1 18 Z" fill="#fff"/></svg>
<svg class="r" style="left:295.25px;top:412.50px;width:5.85px;height:6.90px" viewBox="0 0 20 20" preserveAspectRatio="none"><path d="M13.5 1.2 A9.2 9.2 0 1 0 13.5 18.8 A8 8 0 0 1 13.5 1.2 Z" fill="#84ee6c"/><path d="M11.5 4.2 Q17.8 4.6 17.2 10 Q16.6 14.6 12.6 15.6" fill="none" stroke="#84ee6c" stroke-width="2.6" stroke-linecap="round"/></svg>
<div class="t" style="left:304.57px;top:413.61px;font-size:100px;line-height:100px;font-weight:700;color:#ffffff;transform:scale(0.04978,0.05301);-webkit-text-stroke-width:3.00px;">LOGO HERE</div>
<div class="t" style="left:284.18px;top:424.41px;font-size:100px;line-height:100px;font-weight:700;color:#ffffff;transform:scale(0.08094,0.08080);-webkit-text-stroke-width:3.00px;">Online <span style="color:#84ee6c">Learning</span></div>
<div class="t" style="left:297.20px;top:433.82px;font-size:100px;line-height:100px;font-weight:700;color:#fff;transform:scale(0.08270,0.08011);-webkit-text-stroke-width:3.00px;">Platform</div>
<div class="t" style="left:302.22px;top:443.22px;font-size:100px;line-height:100px;font-weight:700;color:#fff;transform:scale(0.08100,0.08011);-webkit-text-stroke-width:3.00px;">For All</div>
<div class="r" style="left:294.25px;top:457.50px;width:41.50px;height:15.00px;background:#84ee6c;border-radius:4.0px;"></div>
<div class="t" style="left:300.77px;top:462.13px;font-size:100px;line-height:100px;font-weight:700;color:#1d1d1d;transform:scale(0.04979,0.05158);-webkit-text-stroke-width:3.00px;">BOOK NOW</div>
<div class="t" style="left:324.30px;top:326.18px;font-size:100px;line-height:100px;font-weight:700;color:#161616;transform:scale(0.06484,0.06877);-webkit-text-stroke-width:3.00px;">120X240</div>
<div class="r" style="left:280.00px;top:518.00px;width:70.50px;height:52.50px;background:#280c4c;border-radius:0.0px;"></div>
<div class="r" style="left:284.20px;top:524.20px;width:25.50px;height:41.10px;background:#bbbbbb;border-radius:4.5px 4.5px 4.5px 1.5px"></div>
<svg class="r" style="left:291.80px;top:540.12px;width:10.30px;height:9.27px" viewBox="0 0 24 21.6"><rect x="1.1" y="1.1" width="21.8" height="19.4" rx="3.2" fill="none" stroke="#fff" stroke-width="2.2"/><circle cx="7.3" cy="7" r="2.3" fill="#fff"/><path d="M1 16.5 L7.5 11.5 L11.5 14.2 L16.8 9 L23 13.8 V18 Q23 20.5 20.5 20.5 H3.5 Q1 20.5 1 18 Z" fill="#fff"/></svg>
<svg class="r" style="left:324.30px;top:521.80px;width:1.70px;height:2.70px" viewBox="0 0 20 20" preserveAspectRatio="none"><path d="M13.5 1.2 A9.2 9.2 0 1 0 13.5 18.8 A8 8 0 0 1 13.5 1.2 Z" fill="#84ee6c"/><path d="M11.5 4.2 Q17.8 4.6 17.2 10 Q16.6 14.6 12.6 15.6" fill="none" stroke="#84ee6c" stroke-width="2.6" stroke-linecap="round"/></svg>
<div class="t" style="left:327.81px;top:522.07px;font-size:100px;line-height:100px;font-weight:700;color:#ffffff;transform:scale(0.02883,0.02865);-webkit-text-stroke-width:3.00px;">LOGO HERE</div>
<div class="t" style="left:323.72px;top:527.50px;font-size:100px;line-height:100px;font-weight:700;color:#fff;transform:scale(0.06912,0.06492);-webkit-text-stroke-width:3.00px;">Online</div>
<div class="t" style="left:316.04px;top:535.00px;font-size:100px;line-height:100px;font-weight:700;color:#84ee6c;transform:scale(0.06968,0.06492);-webkit-text-stroke-width:3.00px;">Learning</div>
<div class="t" style="left:316.53px;top:542.30px;font-size:100px;line-height:100px;font-weight:700;color:#fff;transform:scale(0.07125,0.06492);-webkit-text-stroke-width:3.00px;">Platform</div>
<div class="t" style="left:324.35px;top:550.00px;font-size:100px;line-height:100px;font-weight:700;color:#fff;transform:scale(0.06747,0.06492);-webkit-text-stroke-width:3.00px;">For All</div>
<div class="r" style="left:321.20px;top:560.20px;width:23.80px;height:7.60px;background:#84ee6c;border-radius:2.0px;"></div>
<div class="t" style="left:323.58px;top:562.77px;font-size:100px;line-height:100px;font-weight:700;color:#1d1d1d;transform:scale(0.03396,0.02865);-webkit-text-stroke-width:3.00px;">BOOK NOW</div>
<div class="t" style="left:313.54px;top:501.27px;font-size:100px;line-height:100px;font-weight:700;color:#161616;transform:scale(0.10699,0.10315);-webkit-text-stroke-width:3.00px;">120X90</div>
<div class="r" style="left:375.80px;top:419.80px;width:179.90px;height:149.30px;background:#280c4c;border-radius:0.0px;"></div>
<div class="r" style="left:411.40px;top:437.90px;width:50.40px;height:84.00px;background:#bbbbbb;border-radius:6px"></div>
<svg class="r" style="left:426.60px;top:470.90px;width:20.00px;height:18.00px" viewBox="0 0 24 21.6"><rect x="1.1" y="1.1" width="21.8" height="19.4" rx="3.2" fill="none" stroke="#fff" stroke-width="2.2"/><circle cx="7.3" cy="7" r="2.3" fill="#fff"/><path d="M1 16.5 L7.5 11.5 L11.5 14.2 L16.8 9 L23 13.8 V18 Q23 20.5 20.5 20.5 H3.5 Q1 20.5 1 18 Z" fill="#fff"/></svg>
<div class="r" style="left:382.20px;top:494.80px;width:27.80px;height:27.10px;background:#bbbbbb;border-radius:3px"></div>
<svg class="r" style="left:390.10px;top:502.95px;width:12.00px;height:10.80px" viewBox="0 0 24 21.6"><rect x="1.1" y="1.1" width="21.8" height="19.4" rx="3.2" fill="none" stroke="#fff" stroke-width="2.2"/><circle cx="7.3" cy="7" r="2.3" fill="#fff"/><path d="M1 16.5 L7.5 11.5 L11.5 14.2 L16.8 9 L23 13.8 V18 Q23 20.5 20.5 20.5 H3.5 Q1 20.5 1 18 Z" fill="#fff"/></svg>
<div class="r" style="left:382.20px;top:523.90px;width:27.80px;height:27.10px;background:#bbbbbb;border-radius:3px"></div>
<svg class="r" style="left:390.10px;top:532.05px;width:12.00px;height:10.80px" viewBox="0 0 24 21.6"><rect x="1.1" y="1.1" width="21.8" height="19.4" rx="3.2" fill="none" stroke="#fff" stroke-width="2.2"/><circle cx="7.3" cy="7" r="2.3" fill="#fff"/><path d="M1 16.5 L7.5 11.5 L11.5 14.2 L16.8 9 L23 13.8 V18 Q23 20.5 20.5 20.5 H3.5 Q1 20.5 1 18 Z" fill="#fff"/></svg>
<div class="r" style="left:411.40px;top:523.90px;width:27.10px;height:27.10px;background:#bbbbbb;border-radius:3px"></div>
<svg class="r" style="left:418.95px;top:532.05px;width:12.00px;height:10.80px" viewBox="0 0 24 21.6"><rect x="1.1" y="1.1" width="21.8" height="19.4" rx="3.2" fill="none" stroke="#fff" stroke-width="2.2"/><circle cx="7.3" cy="7" r="2.3" fill="#fff"/><path d="M1 16.5 L7.5 11.5 L11.5 14.2 L16.8 9 L23 13.8 V18 Q23 20.5 20.5 20.5 H3.5 Q1 20.5 1 18 Z" fill="#fff"/></svg>
<svg class="r" style="left:497.50px;top:435.10px;width:7.50px;height:9.30px" viewBox="0 0 20 20" preserveAspectRatio="none"><path d="M13.5 1.2 A9.2 9.2 0 1 0 13.5 18.8 A8 8 0 0 1 13.5 1.2 Z" fill="#84ee6c"/><path d="M11.5 4.2 Q17.8 4.6 17.2 10 Q16.6 14.6 12.6 15.6" fill="none" stroke="#84ee6c" stroke-width="2.6" stroke-linecap="round"/></svg>
<div class="t" style="left:508.50px;top:436.18px;font-size:100px;line-height:100px;font-weight:700;color:#ffffff;transform:scale(0.06004,0.06877);-webkit-text-stroke-width:3.00px;">LOGO HERE</div>
<div class="t" style="left:492.62px;top:457.75px;font-size:100px;line-height:100px;font-weight:700;color:#fff;transform:scale(0.16886,0.15055);-webkit-text-stroke-width:3.00px;">Online</div>
<div class="t" style="left:473.47px;top:476.48px;font-size:100px;line-height:100px;font-weight:700;color:#84ee6c;transform:scale(0.17115,0.15608);-webkit-text-stroke-width:3.00px;">Learning</div>
<div class="t" style="left:475.15px;top:496.10px;font-size:100px;line-height:100px;font-weight:700;color:#fff;transform:scale(0.17379,0.15470);-webkit-text-stroke-width:3.00px;">Platform</div>
<div class="t" style="left:492.88px;top:514.80px;font-size:100px;line-height:100px;font-weight:700;color:#fff;transform:scale(0.16900,0.15470);-webkit-text-stroke-width:3.00px;">For All</div>
<div class="r" style="left:492.00px;top:539.60px;width:53.00px;height:21.10px;background:#84ee6c;border-radius:4.0px;"></div>
<div class="t" style="left:503.15px;top:547.00px;font-size:100px;line-height:100px;font-weight:700;color:#1d1d1d;transform:scale(0.05324,0.06734);-webkit-text-stroke-width:3.00px;">BOOK NOW</div>
<div class="t" style="left:516.18px;top:405.87px;font-size:100px;line-height:100px;font-weight:700;color:#161616;transform:scale(0.10198,0.09599);-webkit-text-stroke-width:3.00px;">336X280</div>
<div class="r" style="left:568.20px;top:420.40px;width:176.30px;height:146.60px;background:#280c4c;border-radius:0.0px;"></div>
<div class="r" style="left:607.20px;top:431.50px;width:55.70px;height:91.80px;background:#bbbbbb;border-radius:6px"></div>
<svg class="r" style="left:623.85px;top:467.32px;width:22.40px;height:20.16px" viewBox="0 0 24 21.6"><rect x="1.1" y="1.1" width="21.8" height="19.4" rx="3.2" fill="none" stroke="#fff" stroke-width="2.2"/><circle cx="7.3" cy="7" r="2.3" fill="#fff"/><path d="M1 16.5 L7.5 11.5 L11.5 14.2 L16.8 9 L23 13.8 V18 Q23 20.5 20.5 20.5 H3.5 Q1 20.5 1 18 Z" fill="#fff"/></svg>
<div class="r" style="left:575.50px;top:494.20px;width:29.70px;height:29.10px;background:#bbbbbb;border-radius:3px"></div>
<svg class="r" style="left:583.50px;top:502.58px;width:13.70px;height:12.33px" viewBox="0 0 24 21.6"><rect x="1.1" y="1.1" width="21.8" height="19.4" rx="3.2" fill="none" stroke="#fff" stroke-width="2.2"/><circle cx="7.3" cy="7" r="2.3" fill="#fff"/><path d="M1 16.5 L7.5 11.5 L11.5 14.2 L16.8 9 L23 13.8 V18 Q23 20.5 20.5 20.5 H3.5 Q1 20.5 1 18 Z" fill="#fff"/></svg>
<div class="r" style="left:575.50px;top:526.00px;width:29.70px;height:29.00px;background:#bbbbbb;border-radius:3px"></div>
<svg class="r" style="left:583.50px;top:534.34px;width:13.70px;height:12.33px" viewBox="0 0 24 21.6"><rect x="1.1" y="1.1" width="21.8" height="19.4" rx="3.2" fill="none" stroke="#fff" stroke-width="2.2"/><circle cx="7.3" cy="7" r="2.3" fill="#fff"/><path d="M1 16.5 L7.5 11.5 L11.5 14.2 L16.8 9 L23 13.8 V18 Q23 20.5 20.5 20.5 H3.5 Q1 20.5 1 18 Z" fill="#fff"/></svg>
<div class="r" style="left:607.20px;top:526.00px;width:29.50px;height:29.00px;background:#bbbbbb;border-radius:3px"></div>
<svg class="r" style="left:615.10px;top:534.34px;width:13.70px;height:12.33px" viewBox="0 0 24 21.6"><rect x="1.1" y="1.1" width="21.8" height="19.4" rx="3.2" fill="none" stroke="#fff" stroke-width="2.2"/><circle cx="7.3" cy="7" r="2.3" fill="#fff"/><path d="M1 16.5 L7.5 11.5 L11.5 14.2 L16.8 9 L23 13.8 V18 Q23 20.5 20.5 20.5 H3.5 Q1 20.5 1 18 Z" fill="#fff"/></svg>
<svg class="r" style="left:686.40px;top:433.20px;width:7.00px;height:8.60px" viewBox="0 0 20 20" preserveAspectRatio="none"><path d="M13.5 1.2 A9.2 9.2 0 1 0 13.5 18.8 A8 8 0 0 1 13.5 1.2 Z" fill="#84ee6c"/><path d="M11.5 4.2 Q17.8 4.6 17.2 10 Q16.6 14.6 12.6 15.6" fill="none" stroke="#84ee6c" stroke-width="2.6" stroke-linecap="round"/></svg>
<div class="t" style="left:697.17px;top:433.76px;font-size:100px;line-height:100px;font-weight:700;color:#ffffff;transform:scale(0.06530,0.07020);-webkit-text-stroke-width:3.00px;">LOGO HERE</div>
<div class="t" style="left:690.51px;top:461.49px;font-size:100px;line-height:100px;font-weight:700;color:#fff;transform:scale(0.14812,0.14779);-webkit-text-stroke-width:3.00px;">Online</div>
<div class="t" style="left:673.81px;top:477.72px;font-size:100px;line-height:100px;font-weight:700;color:#84ee6c;transform:scale(0.14988,0.15331);-webkit-text-stroke-width:3.00px;">Learning</div>
<div class="t" style="left:675.19px;top:494.70px;font-size:100px;line-height:100px;font-weight:700;color:#fff;transform:scale(0.15242,0.15470);-webkit-text-stroke-width:3.00px;">Platform</div>
<div class="t" style="left:690.82px;top:511.00px;font-size:100px;line-height:100px;font-weight:700;color:#fff;transform:scale(0.14796,0.15470);-webkit-text-stroke-width:3.00px;">For All</div>
<div class="r" style="left:683.60px;top:539.70px;width:53.70px;height:20.50px;background:#84ee6c;border-radius:4.0px;"></div>
<div class="t" style="left:693.00px;top:547.01px;font-size:100px;line-height:100px;font-weight:700;color:#1d1d1d;transform:scale(0.06031,0.07307);-webkit-text-stroke-width:3.00px;">BOOK NOW</div>
<div class="t" style="left:698.75px;top:404.78px;font-size:100px;line-height:100px;font-weight:700;color:#161616;transform:scale(0.11542,0.10888);-webkit-text-stroke-width:3.00px;">300X250</div>
<div class="r" style="left:754.60px;top:419.90px;width:146.50px;height:146.20px;background:#280c4c;border-radius:0.0px;"></div>
<div class="r" style="left:782.50px;top:440.60px;width:37.00px;height:84.10px;background:#bbbbbb;border-radius:5px"></div>
<svg class="r" style="left:794.00px;top:476.35px;width:14.00px;height:12.60px" viewBox="0 0 24 21.6"><rect x="1.1" y="1.1" width="21.8" height="19.4" rx="3.2" fill="none" stroke="#fff" stroke-width="2.2"/><circle cx="7.3" cy="7" r="2.3" fill="#fff"/><path d="M1 16.5 L7.5 11.5 L11.5 14.2 L16.8 9 L23 13.8 V18 Q23 20.5 20.5 20.5 H3.5 Q1 20.5 1 18 Z" fill="#fff"/></svg>
<div class="r" style="left:761.50px;top:505.50px;width:19.50px;height:19.20px;background:#bbbbbb;border-radius:2.5px"></div>
<svg class="r" style="left:766.50px;top:510.83px;width:9.50px;height:8.55px" viewBox="0 0 24 21.6"><rect x="1.1" y="1.1" width="21.8" height="19.4" rx="3.2" fill="none" stroke="#fff" stroke-width="2.2"/><circle cx="7.3" cy="7" r="2.3" fill="#fff"/><path d="M1 16.5 L7.5 11.5 L11.5 14.2 L16.8 9 L23 13.8 V18 Q23 20.5 20.5 20.5 H3.5 Q1 20.5 1 18 Z" fill="#fff"/></svg>
<div class="r" style="left:761.50px;top:526.20px;width:19.50px;height:19.50px;background:#bbbbbb;border-radius:2.5px"></div>
<svg class="r" style="left:766.50px;top:531.68px;width:9.50px;height:8.55px" viewBox="0 0 24 21.6"><rect x="1.1" y="1.1" width="21.8" height="19.4" rx="3.2" fill="none" stroke="#fff" stroke-width="2.2"/><circle cx="7.3" cy="7" r="2.3" fill="#fff"/><path d="M1 16.5 L7.5 11.5 L11.5 14.2 L16.8 9 L23 13.8 V18 Q23 20.5 20.5 20.5 H3.5 Q1 20.5 1 18 Z" fill="#fff"/></svg>
<div class="r" style="left:782.50px;top:526.20px;width:20.10px;height:19.50px;background:#bbbbbb;border-radius:2.5px"></div>
<svg class="r" style="left:787.80px;top:531.68px;width:9.50px;height:8.55px" viewBox="0 0 24 21.6"><rect x="1.1" y="1.1" width="21.8" height="19.4" rx="3.2" fill="none" stroke="#fff" stroke-width="2.2"/><circle cx="7.3" cy="7" r="2.3" fill="#fff"/><path d="M1 16.5 L7.5 11.5 L11.5 14.2 L16.8 9 L23 13.8 V18 Q23 20.5 20.5 20.5 H3.5 Q1 20.5 1 18 Z" fill="#fff"/></svg>
<svg class="r" style="left:838.60px;top:430.50px;width:7.00px;height:8.60px" viewBox="0 0 20 20" preserveAspectRatio="none"><path d="M13.5 1.2 A9.2 9.2 0 1 0 13.5 18.8 A8 8 0 0 1 13.5 1.2 Z" fill="#84ee6c"/><path d="M11.5 4.2 Q17.8 4.6 17.2 10 Q16.6 14.6 12.6 15.6" fill="none" stroke="#84ee6c" stroke-width="2.6" stroke-linecap="round"/></svg>
<div class="t" style="left:849.36px;top:430.95px;font-size:100px;line-height:100px;font-weight:700;color:#ffffff;transform:scale(0.06615,0.07736);-webkit-text-stroke-width:3.00px;">LOGO HERE</div>
<div class="t" style="left:843.20px;top:456.49px;font-size:100px;line-height:100px;font-weight:700;color:#fff;transform:scale(0.14944,0.14779);-webkit-text-stroke-width:3.00px;">Online</div>
<div class="t" style="left:826.00px;top:472.67px;font-size:100px;line-height:100px;font-weight:700;color:#84ee6c;transform:scale(0.15208,0.15746);-webkit-text-stroke-width:3.00px;">Learning</div>
<div class="t" style="left:827.89px;top:490.22px;font-size:100px;line-height:100px;font-weight:700;color:#fff;transform:scale(0.15344,0.15331);-webkit-text-stroke-width:3.00px;">Platform</div>
<div class="t" style="left:843.51px;top:506.00px;font-size:100px;line-height:100px;font-weight:700;color:#fff;transform:scale(0.14930,0.15470);-webkit-text-stroke-width:3.00px;">For All</div>
<div class="r" style="left:836.80px;top:534.70px;width:52.70px;height:20.50px;background:#84ee6c;border-radius:4.0px;"></div>
<div class="t" style="left:845.71px;top:541.27px;font-size:100px;line-height:100px;font-weight:700;color:#1d1d1d;transform:scale(0.05890,0.07593);-webkit-text-stroke-width:3.00px;">BOOK NOW</div>
<div class="t" style="left:855.11px;top:403.00px;font-size:100px;line-height:100px;font-weight:700;color:#161616;transform:scale(0.11603,0.10745);-webkit-text-stroke-width:3.00px;">250X250</div>
<div style="position:absolute;left:-6.3px;top:-97.1px;width:0;height:0;transform-origin:0 0;transform:rotate(-46deg)"><div class="t" style="left:-131.56px;top:-8.70px;font-size:100px;line-height:100px;font-weight:700;color:rgba(255,255,255,0.15);transform:scale(0.21525,0.17956);text-shadow:2.78px 2.78px 8.35px rgba(0,0,0,0.07);-webkit-text-stroke-width:0.06px;">Adobe Stock</div></div>
<div style="position:absolute;left:113.5px;top:-48.4px;width:0;height:0;transform-origin:0 0;transform:rotate(-46deg)"><div class="t" style="left:-131.56px;top:-8.70px;font-size:100px;line-height:100px;font-weight:700;color:rgba(255,255,255,0.15);transform:scale(0.21525,0.17956);text-shadow:2.78px 2.78px 8.35px rgba(0,0,0,0.07);-webkit-text-stroke-width:0.06px;">Adobe Stock</div></div>
<div style="position:absolute;left:8.0px;top:233.6px;width:0;height:0;transform-origin:0 0;transform:rotate(-46deg)"><div class="t" style="left:-131.56px;top:-8.70px;font-size:100px;line-height:100px;font-weight:700;color:rgba(255,255,255,0.15);transform:scale(0.21525,0.17956);text-shadow:2.78px 2.78px 8.35px rgba(0,0,0,0.07);-webkit-text-stroke-width:0.06px;">Adobe Stock</div></div>
<div style="position:absolute;left:166.3px;top:69.6px;width:0;height:0;transform-origin:0 0;transform:rotate(-46deg)"><div class="t" style="left:-131.56px;top:-8.70px;font-size:100px;line-height:100px;font-weight:700;color:rgba(255,255,255,0.15);transform:scale(0.21525,0.17956);text-shadow:2.78px 2.78px 8.35px rgba(0,0,0,0.07);-webkit-text-stroke-width:0.06px;">Adobe Stock</div></div>
<div style="position:absolute;left:324.7px;top:-94.4px;width:0;height:0;transform-origin:0 0;transform:rotate(-46deg)"><div class="t" style="left:-131.56px;top:-8.70px;font-size:100px;line-height:100px;font-weight:700;color:rgba(255,255,255,0.15);transform:scale(0.21525,0.17956);text-shadow:2.78px 2.78px 8.35px rgba(0,0,0,0.07);-webkit-text-stroke-width:0.06px;">Adobe Stock</div></div>
<div style="position:absolute;left:127.8px;top:282.3px;width:0;height:0;transform-origin:0 0;transform:rotate(-46deg)"><div class="t" style="left:-131.56px;top:-8.70px;font-size:100px;line-height:100px;font-weight:700;color:rgba(255,255,255,0.15);transform:scale(0.21525,0.17956);text-shadow:2.78px 2.78px 8.35px rgba(0,0,0,0.07);-webkit-text-stroke-width:0.06px;">Adobe Stock</div></div>
<div style="position:absolute;left:286.2px;top:118.3px;width:0;height:0;transform-origin:0 0;transform:rotate(-46deg)"><div class="t" style="left:-131.56px;top:-8.70px;font-size:100px;line-height:100px;font-weight:700;color:rgba(255,255,255,0.15);transform:scale(0.21525,0.17956);text-shadow:2.78px 2.78px 8.35px rgba(0,0,0,0.07);-webkit-text-stroke-width:0.06px;">Adobe Stock</div></div>
<div style="position:absolute;left:444.5px;top:-45.7px;width:0;height:0;transform-origin:0 0;transform:rotate(-46deg)"><div class="t" style="left:-131.56px;top:-8.70px;font-size:100px;line-height:100px;font-weight:700;color:rgba(255,255,255,0.15);transform:scale(0.21525,0.17956);text-shadow:2.78px 2.78px 8.35px rgba(0,0,0,0.07);-webkit-text-stroke-width:0.06px;">Adobe Stock</div></div>
<div style="position:absolute;left:22.2px;top:564.3px;width:0;height:0;transform-origin:0 0;transform:rotate(-46deg)"><div class="t" style="left:-131.56px;top:-8.70px;font-size:100px;line-height:100px;font-weight:700;color:rgba(255,255,255,0.15);transform:scale(0.21525,0.17956);text-shadow:2.78px 2.78px 8.35px rgba(0,0,0,0.07);-webkit-text-stroke-width:0.06px;">Adobe Stock</div></div>
<div style="position:absolute;left:180.6px;top:400.3px;width:0;height:0;transform-origin:0 0;transform:rotate(-46deg)"><div class="t" style="left:-131.56px;top:-8.70px;font-size:100px;line-height:100px;font-weight:700;color:rgba(255,255,255,0.15);transform:scale(0.21525,0.17956);text-shadow:2.78px 2.78px 8.35px rgba(0,0,0,0.07);-webkit-text-stroke-width:0.06px;">Adobe Stock</div></div>
<div style="position:absolute;left:339.0px;top:236.3px;width:0;height:0;transform-origin:0 0;transform:rotate(-46deg)"><div class="t" style="left:-131.56px;top:-8.70px;font-size:100px;line-height:100px;font-weight:700;color:rgba(255,255,255,0.15);transform:scale(0.21525,0.17956);text-shadow:2.78px 2.78px 8.35px rgba(0,0,0,0.07);-webkit-text-stroke-width:0.06px;">Adobe Stock</div></div>
<div style="position:absolute;left:497.4px;top:72.3px;width:0;height:0;transform-origin:0 0;transform:rotate(-46deg)"><div class="t" style="left:-131.56px;top:-8.70px;font-size:100px;line-height:100px;font-weight:700;color:rgba(255,255,255,0.15);transform:scale(0.21525,0.17956);text-shadow:2.78px 2.78px 8.35px rgba(0,0,0,0.07);-webkit-text-stroke-width:0.06px;">Adobe Stock</div></div>
<div style="position:absolute;left:655.8px;top:-91.7px;width:0;height:0;transform-origin:0 0;transform:rotate(-46deg)"><div class="t" style="left:-131.56px;top:-8.70px;font-size:100px;line-height:100px;font-weight:700;color:rgba(255,255,255,0.15);transform:scale(0.21525,0.17956);text-shadow:2.78px 2.78px 8.35px rgba(0,0,0,0.07);-webkit-text-stroke-width:0.06px;">Adobe Stock</div></div>
<div style="position:absolute;left:142.0px;top:613.0px;width:0;height:0;transform-origin:0 0;transform:rotate(-46deg)"><div class="t" style="left:-131.56px;top:-8.70px;font-size:100px;line-height:100px;font-weight:700;color:rgba(255,255,255,0.15);transform:scale(0.21525,0.17956);text-shadow:2.78px 2.78px 8.35px rgba(0,0,0,0.07);-webkit-text-stroke-width:0.06px;">Adobe Stock</div></div>
<div style="position:absolute;left:300.4px;top:449.0px;width:0;height:0;transform-origin:0 0;transform:rotate(-46deg)"><div class="t" style="left:-131.56px;top:-8.70px;font-size:100px;line-height:100px;font-weight:700;color:rgba(255,255,255,0.15);transform:scale(0.21525,0.17956);text-shadow:2.78px 2.78px 8.35px rgba(0,0,0,0.07);-webkit-text-stroke-width:0.06px;">Adobe Stock</div></div>
<div style="position:absolute;left:458.8px;top:285.0px;width:0;height:0;transform-origin:0 0;transform:rotate(-46deg)"><div class="t" style="left:-131.56px;top:-8.70px;font-size:100px;line-height:100px;font-weight:700;color:rgba(255,255,255,0.15);transform:scale(0.21525,0.17956);text-shadow:2.78px 2.78px 8.35px rgba(0,0,0,0.07);-webkit-text-stroke-width:0.06px;">Adobe Stock</div></div>
<div style="position:absolute;left:617.2px;top:121.0px;width:0;height:0;transform-origin:0 0;transform:rotate(-46deg)"><div class="t" style="left:-131.56px;top:-8.70px;font-size:100px;line-height:100px;font-weight:700;color:rgba(255,255,255,0.15);transform:scale(0.21525,0.17956);text-shadow:2.78px 2.78px 8.35px rgba(0,0,0,0.07);-webkit-text-stroke-width:0.06px;">Adobe Stock</div></div>
<div style="position:absolute;left:775.6px;top:-43.0px;width:0;height:0;transform-origin:0 0;transform:rotate(-46deg)"><div class="t" style="left:-131.56px;top:-8.70px;font-size:100px;line-height:100px;font-weight:700;color:rgba(255,255,255,0.15);transform:scale(0.21525,0.17956);text-shadow:2.78px 2.78px 8.35px rgba(0,0,0,0.07);-webkit-text-stroke-width:0.06px;">Adobe Stock</div></div>
<div style="position:absolute;left:353.3px;top:567.0px;width:0;height:0;transform-origin:0 0;transform:rotate(-46deg)"><div class="t" style="left:-131.56px;top:-8.70px;font-size:100px;line-height:100px;font-weight:700;color:rgba(255,255,255,0.15);transform:scale(0.21525,0.17956);text-shadow:2.78px 2.78px 8.35px rgba(0,0,0,0.07);-webkit-text-stroke-width:0.06px;">Adobe Stock</div></div>
<div style="position:absolute;left:511.6px;top:403.0px;width:0;height:0;transform-origin:0 0;transform:rotate(-46deg)"><div class="t" style="left:-131.56px;top:-8.70px;font-size:100px;line-height:100px;font-weight:700;color:rgba(255,255,255,0.15);transform:scale(0.21525,0.17956);text-shadow:2.78px 2.78px 8.35px rgba(0,0,0,0.07);-webkit-text-stroke-width:0.06px;">Adobe Stock</div></div>
<div style="position:absolute;left:670.0px;top:239.0px;width:0;height:0;transform-origin:0 0;transform:rotate(-46deg)"><div class="t" style="left:-131.56px;top:-8.70px;font-size:100px;line-height:100px;font-weight:700;color:rgba(255,255,255,0.15);transform:scale(0.21525,0.17956);text-shadow:2.78px 2.78px 8.35px rgba(0,0,0,0.07);-webkit-text-stroke-width:0.06px;">Adobe Stock</div></div>
<div style="position:absolute;left:828.4px;top:75.0px;width:0;height:0;transform-origin:0 0;transform:rotate(-46deg)"><div class="t" style="left:-131.56px;top:-8.70px;font-size:100px;line-height:100px;font-weight:700;color:rgba(255,255,255,0.15);transform:scale(0.21525,0.17956);text-shadow:2.78px 2.78px 8.35px rgba(0,0,0,0.07);-webkit-text-stroke-width:0.06px;">Adobe Stock</div></div>
<div style="position:absolute;left:986.8px;top:-89.0px;width:0;height:0;transform-origin:0 0;transform:rotate(-46deg)"><div class="t" style="left:-131.56px;top:-8.70px;font-size:100px;line-height:100px;font-weight:700;color:rgba(255,255,255,0.15);transform:scale(0.21525,0.17956);text-shadow:2.78px 2.78px 8.35px rgba(0,0,0,0.07);-webkit-text-stroke-width:0.06px;">Adobe Stock</div></div>
<div style="position:absolute;left:473.1px;top:615.7px;width:0;height:0;transform-origin:0 0;transform:rotate(-46deg)"><div class="t" style="left:-131.56px;top:-8.70px;font-size:100px;line-height:100px;font-weight:700;color:rgba(255,255,255,0.15);transform:scale(0.21525,0.17956);text-shadow:2.78px 2.78px 8.35px rgba(0,0,0,0.07);-webkit-text-stroke-width:0.06px;">Adobe Stock</div></div>
<div style="position:absolute;left:631.4px;top:451.7px;width:0;height:0;transform-origin:0 0;transform:rotate(-46deg)"><div class="t" style="left:-131.56px;top:-8.70px;font-size:100px;line-height:100px;font-weight:700;color:rgba(255,255,255,0.15);transform:scale(0.21525,0.17956);text-shadow:2.78px 2.78px 8.35px rgba(0,0,0,0.07);-webkit-text-stroke-width:0.06px;">Adobe Stock</div></div>
<div style="position:absolute;left:789.8px;top:287.7px;width:0;height:0;transform-origin:0 0;transform:rotate(-46deg)"><div class="t" style="left:-131.56px;top:-8.70px;font-size:100px;line-height:100px;font-weight:700;color:rgba(255,255,255,0.15);transform:scale(0.21525,0.17956);text-shadow:2.78px 2.78px 8.35px rgba(0,0,0,0.07);-webkit-text-stroke-width:0.06px;">Adobe Stock</div></div>
<div style="position:absolute;left:948.2px;top:123.7px;width:0;height:0;transform-origin:0 0;transform:rotate(-46deg)"><div class="t" style="left:-131.56px;top:-8.70px;font-size:100px;line-height:100px;font-weight:700;color:rgba(255,255,255,0.15);transform:scale(0.21525,0.17956);text-shadow:2.78px 2.78px 8.35px rgba(0,0,0,0.07);-webkit-text-stroke-width:0.06px;">Adobe Stock</div></div>
<div style="position:absolute;left:1106.6px;top:-40.3px;width:0;height:0;transform-origin:0 0;transform:rotate(-46deg)"><div class="t" style="left:-131.56px;top:-8.70px;font-size:100px;line-height:100px;font-weight:700;color:rgba(255,255,255,0.15);transform:scale(0.21525,0.17956);text-shadow:2.78px 2.78px 8.35px rgba(0,0,0,0.07);-webkit-text-stroke-width:0.06px;">Adobe Stock</div></div>
<div style="position:absolute;left:684.3px;top:569.7px;width:0;height:0;transform-origin:0 0;transform:rotate(-46deg)"><div class="t" style="left:-131.56px;top:-8.70px;font-size:100px;line-height:100px;font-weight:700;color:rgba(255,255,255,0.15);transform:scale(0.21525,0.17956);text-shadow:2.78px 2.78px 8.35px rgba(0,0,0,0.07);-webkit-text-stroke-width:0.06px;">Adobe Stock</div></div>
<div style="position:absolute;left:842.7px;top:405.7px;width:0;height:0;transform-origin:0 0;transform:rotate(-46deg)"><div class="t" style="left:-131.56px;top:-8.70px;font-size:100px;line-height:100px;font-weight:700;color:rgba(255,255,255,0.15);transform:scale(0.21525,0.17956);text-shadow:2.78px 2.78px 8.35px rgba(0,0,0,0.07);-webkit-text-stroke-width:0.06px;">Adobe Stock</div></div>
<div style="position:absolute;left:1001.0px;top:241.7px;width:0;height:0;transform-origin:0 0;transform:rotate(-46deg)"><div class="t" style="left:-131.56px;top:-8.70px;font-size:100px;line-height:100px;font-weight:700;color:rgba(255,255,255,0.15);transform:scale(0.21525,0.17956);text-shadow:2.78px 2.78px 8.35px rgba(0,0,0,0.07);-webkit-text-stroke-width:0.06px;">Adobe Stock</div></div>
<div style="position:absolute;left:804.1px;top:618.4px;width:0;height:0;transform-origin:0 0;transform:rotate(-46deg)"><div class="t" style="left:-131.56px;top:-8.70px;font-size:100px;line-height:100px;font-weight:700;color:rgba(255,255,255,0.15);transform:scale(0.21525,0.17956);text-shadow:2.78px 2.78px 8.35px rgba(0,0,0,0.07);-webkit-text-stroke-width:0.06px;">Adobe Stock</div></div>
<div style="position:absolute;left:962.5px;top:454.4px;width:0;height:0;transform-origin:0 0;transform:rotate(-46deg)"><div class="t" style="left:-131.56px;top:-8.70px;font-size:100px;line-height:100px;font-weight:700;color:rgba(255,255,255,0.15);transform:scale(0.21525,0.17956);text-shadow:2.78px 2.78px 8.35px rgba(0,0,0,0.07);-webkit-text-stroke-width:0.06px;">Adobe Stock</div></div>
<div style="position:absolute;left:1015.3px;top:572.4px;width:0;height:0;transform-origin:0 0;transform:rotate(-46deg)"><div class="t" style="left:-131.56px;top:-8.70px;font-size:100px;line-height:100px;font-weight:700;color:rgba(255,255,255,0.15);transform:scale(0.21525,0.17956);text-shadow:2.78px 2.78px 8.35px rgba(0,0,0,0.07);-webkit-text-stroke-width:0.06px;">Adobe Stock</div></div>
<div style="position:absolute;left:0;top:584.8px;width:0;height:0;transform-origin:0 0;transform:rotate(-90deg)"><div class="t" style="left:-0.04px;top:13.83px;font-size:100px;line-height:100px;font-weight:400;color:#3a3a3a;transform:scale(0.18590,0.18508);-webkit-text-stroke-width:4.32px;">Adobe Stock | #553976467</div></div>
</body></html>
